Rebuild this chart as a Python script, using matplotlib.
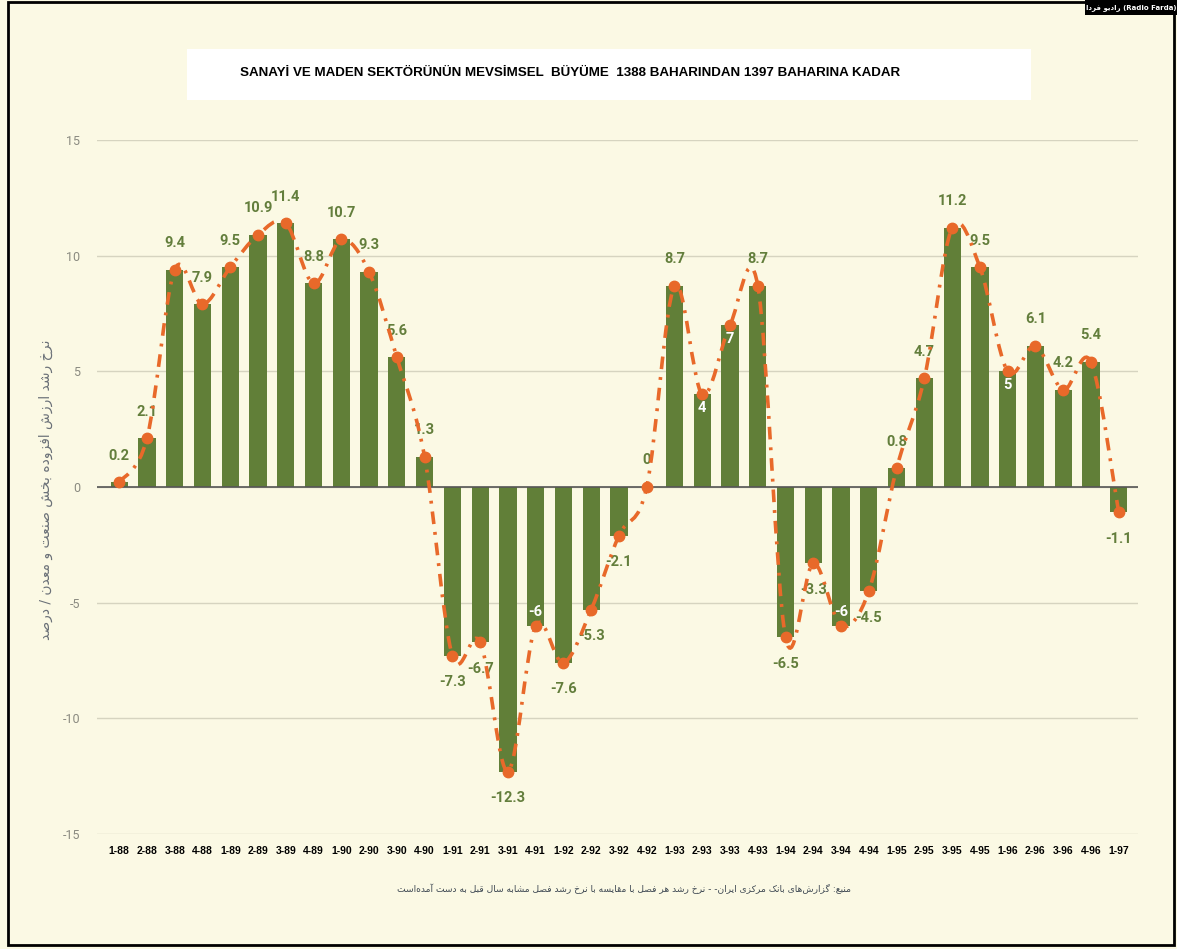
import numpy as np
import matplotlib
matplotlib.use("Agg")
import matplotlib.pyplot as plt
from matplotlib.path import Path
from matplotlib.patches import PathPatch, Rectangle

plt.rcParams["axes.unicode_minus"] = False

# quarters 1-88 ... 1-97
quarters = ["1-88", "2-88", "3-88", "4-88", "1-89", "2-89", "3-89", "4-89",
            "1-90", "2-90", "3-90", "4-90", "1-91", "2-91", "3-91", "4-91",
            "1-92", "2-92", "3-92", "4-92", "1-93", "2-93", "3-93", "4-93",
            "1-94", "2-94", "3-94", "4-94", "1-95", "2-95", "3-95", "4-95",
            "1-96", "2-96", "3-96", "4-96", "1-97"]
growth = [0.2, 2.1, 9.4, 7.9, 9.5, 10.9, 11.4, 8.8, 10.7, 9.3, 5.6, 1.3,
          -7.3, -6.7, -12.3, -6, -7.6, -5.3, -2.1, 0, 8.7, 4, 7, 8.7,
          -6.5, -3.3, -6, -4.5, 0.8, 4.7, 11.2, 9.5, 5, 6.1, 4.2, 5.4, -1.1]
inside_labels = ["4-91", "2-93", "3-93", "3-94", "1-96"]

title = "SANAYİ VE MADEN SEKTÖRÜNÜN MEVSİMSEL  BÜYÜME  1388 BAHARINDAN 1397 BAHARINA KADAR"
ylabel_fa = "نرخ رشد ارزش افزوده بخش صنعت و معدن / درصد"
source_fa = "منبع: گزارش\u200cهای بانک مرکزی ایران- - نرخ رشد هر فصل با مقایسه با نرخ رشد فصل مشابه سال قبل به دست آمده\u200cاست"
badge_fa = "رادیو فردا"

# tiny persian shaper (matplotlib has no text shaping)
FORMS = {
    "ا": ("\uFE8D", "\uFE8E"), "آ": ("\uFE81", "\uFE82"),
    "ب": ("\uFE8F", "\uFE90", "\uFE91", "\uFE92"), "پ": ("\uFB56", "\uFB57", "\uFB58", "\uFB59"),
    "ت": ("\uFE95", "\uFE96", "\uFE97", "\uFE98"), "ث": ("\uFE99", "\uFE9A", "\uFE9B", "\uFE9C"),
    "ج": ("\uFE9D", "\uFE9E", "\uFE9F", "\uFEA0"), "چ": ("\uFB7A", "\uFB7B", "\uFB7C", "\uFB7D"),
    "ح": ("\uFEA1", "\uFEA2", "\uFEA3", "\uFEA4"), "خ": ("\uFEA5", "\uFEA6", "\uFEA7", "\uFEA8"),
    "د": ("\uFEA9", "\uFEAA"), "ذ": ("\uFEAB", "\uFEAC"), "ر": ("\uFEAD", "\uFEAE"),
    "ز": ("\uFEAF", "\uFEB0"), "ژ": ("\uFB8A", "\uFB8B"),
    "س": ("\uFEB1", "\uFEB2", "\uFEB3", "\uFEB4"), "ش": ("\uFEB5", "\uFEB6", "\uFEB7", "\uFEB8"),
    "ص": ("\uFEB9", "\uFEBA", "\uFEBB", "\uFEBC"), "ض": ("\uFEBD", "\uFEBE", "\uFEBF", "\uFEC0"),
    "ط": ("\uFEC1", "\uFEC2", "\uFEC3", "\uFEC4"), "ظ": ("\uFEC5", "\uFEC6", "\uFEC7", "\uFEC8"),
    "ع": ("\uFEC9", "\uFECA", "\uFECB", "\uFECC"), "غ": ("\uFECD", "\uFECE", "\uFECF", "\uFED0"),
    "ف": ("\uFED1", "\uFED2", "\uFED3", "\uFED4"), "ق": ("\uFED5", "\uFED6", "\uFED7", "\uFED8"),
    "ک": ("\uFB8E", "\uFB8F", "\uFB90", "\uFB91"), "گ": ("\uFB92", "\uFB93", "\uFB94", "\uFB95"),
    "ل": ("\uFEDD", "\uFEDE", "\uFEDF", "\uFEE0"), "م": ("\uFEE1", "\uFEE2", "\uFEE3", "\uFEE4"),
    "ن": ("\uFEE5", "\uFEE6", "\uFEE7", "\uFEE8"), "ه": ("\uFEE9", "\uFEEA", "\uFEEB", "\uFEEC"),
    "و": ("\uFEED", "\uFEEE"), "ی": ("\uFBFC", "\uFBFD", "\uFBFE", "\uFBFF"),
}


def shape_fa(s):
    out = []
    for i, ch in enumerate(s):
        if ch not in FORMS:
            if ch != "\u200c":
                out.append(ch)
            continue
        prev = s[i - 1] if i > 0 else ""
        nxt = s[i + 1] if i + 1 < len(s) else ""
        jp = prev in FORMS and len(FORMS[prev]) == 4
        jn = len(FORMS[ch]) == 4 and nxt in FORMS
        f = FORMS[ch]
        if jp and jn:
            out.append(f[3])
        elif jp:
            out.append(f[1])
        elif jn:
            out.append(f[2])
        else:
            out.append(f[0])
    return "".join(out[::-1])


bg = "#FBF9E4"
bar_col = "#617F38"
lab_col = "#637E3C"
line_col = "#E8692A"
narrow = ["Liberation Sans", "DejaVu Sans"]

fig = plt.figure(figsize=(11.77, 9.49), dpi=100, facecolor=bg)
ax = fig.add_axes([0.0824, 0.1212, 0.8846, 0.7313])
ax.set_facecolor(bg)

x = np.arange(len(quarters))
ax.bar(x, growth, width=0.62, color=bar_col, zorder=2)
ax.axhline(0, color="#555555", lw=1.2, zorder=2.5)

# smooth dash-dot line through the points (catmull-rom -> bezier)
pts = np.column_stack([x, growth]).astype(float)
verts = [pts[0]]
codes = [Path.MOVETO]
for i in range(len(pts) - 1):
    p0 = pts[i - 1] if i > 0 else pts[i]
    p1 = pts[i]
    p2 = pts[i + 1]
    p3 = pts[i + 2] if i + 2 < len(pts) else pts[i + 1]
    verts += [p1 + (p2 - p0) / 6, p2 - (p3 - p1) / 6, p2]
    codes += [Path.CURVE4] * 3
ax.add_patch(PathPatch(Path(verts, codes), fill=False, edgecolor=line_col, lw=2.6,
                       linestyle=(0, (3.5, 2.2, 0.8, 2.2)), capstyle="butt", zorder=4))
ax.plot(x, growth, "o", color=line_col, ms=7.5, zorder=5)

for xi, q, v in zip(x, quarters, growth):
    txt = "%g" % v
    if q in inside_labels:
        y = v - 0.6 if v > 0 else v + 0.6
        ax.text(xi, y, txt, ha="center", va="center", color="white", fontsize=10.5,
                fontweight="bold", family="Roboto", zorder=3)
    else:
        y = v + 1.15 if v >= 0 else v - 1.15
        ax.text(xi, y, txt, ha="center", va="center", color=lab_col, fontsize=10.5,
                fontweight="bold", family="Roboto", zorder=3)

ax.set_ylim(-15, 15)
ax.set_xlim(-0.8, 36.7)
ax.set_yticks([-15, -10, -5, 0, 5, 10, 15])
ax.set_xticks(x)
ax.set_xticklabels(quarters, fontsize=7.5, fontweight="bold", family=narrow, color="black")
ax.tick_params(axis="x", length=0, pad=9)
ax.tick_params(axis="y", length=0, pad=12, labelcolor="#8a8a80", labelsize=9)
for lab in ax.get_yticklabels():
    lab.set_family("Roboto")
ax.grid(axis="y", color="#d6d4c0", lw=1, zorder=0)
for s in ax.spines.values():
    s.set_visible(False)

# title box
fig.patches.append(Rectangle((187 / 1177, 1 - 100 / 949), 844 / 1177, 51 / 949,
                             transform=fig.transFigure, facecolor="white", edgecolor="none", zorder=1))
fig.text(570 / 1177, 1 - 73 / 949, title, ha="center", va="center", fontsize=9.6,
         fontweight="bold", family=narrow, color="black", zorder=2)

fig.text(46 / 1177, 1 - 490 / 949, shape_fa(ylabel_fa), rotation=90, ha="center", va="center",
         fontsize=10, color="#6b7178", family="DejaVu Sans")
fig.text(624 / 1177, 1 - 889 / 949, shape_fa(source_fa), ha="center", va="center",
         fontsize=6.6, color="#3f4953", family="DejaVu Sans")

# badge top right
fig.patches.append(Rectangle((1085 / 1177, 1 - 15 / 949), 92 / 1177, 15 / 949,
                             transform=fig.transFigure, facecolor="black", edgecolor="none", zorder=1))
fig.text(1131 / 1177, 1 - 7.5 / 949, shape_fa(badge_fa) + " (Radio Farda)", ha="center", va="center",
         fontsize=5, fontweight="bold", color="white", family="DejaVu Sans", zorder=2)

# outer frame
fig.patches.append(Rectangle((8 / 1177, 1 - 945 / 949), 1166 / 1177, 943 / 949,
                             transform=fig.transFigure, facecolor="none", edgecolor="black", lw=2, zorder=0))

fig.savefig("out.png", dpi=100, facecolor=bg)
